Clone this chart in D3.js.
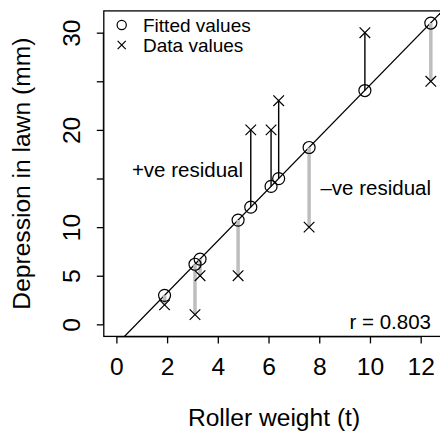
<!DOCTYPE html>
<html>
<head>
<meta charset="utf-8">
<script src="https://cdn.jsdelivr.net/npm/d3@7"></script>
<style>
  body { margin: 0; background: #fff; }
  text { font-family: "Liberation Sans", Arial, Helvetica, sans-serif; }
</style>
</head>
<body>
<div id="chart"></div>
<script>
// roller data: weight (t) vs depression (mm)
var weight = [1.9, 3.1, 3.3, 4.8, 5.3, 6.1, 6.4, 7.6, 9.8, 12.4];
var depression = [2, 1, 5, 5, 20, 20, 23, 10, 30, 25];
// fitted values
var fitted = [2.98, 6.18, 6.71, 10.72, 12.05, 14.19, 14.99, 18.19, 24.05, 30.99];
var lineIntercept = -2.09;
var lineSlope = 2.67;
var xTicks = [0, 2, 4, 6, 8, 10, 12];
var yTicks = [0, 5, 10, 15, 20, 25, 30];
var yTickLabels = ["0", "5", "10", "", "20", "", "30"];

var width = 440, height = 431;
var big = 24.6, small = 20.5;

var svg = d3.select("#chart").append("svg")
  .attr("width", width)
  .attr("height", height);

var x = d3.scaleLinear().domain([-0.496, 12.896]).range([103.8, 443.4]);
var y = d3.scaleLinear().domain([-1.24, 32.24]).range([336.4, 10.9]);

svg.append("clipPath").attr("id", "plotclip")
  .append("rect")
  .attr("x", x.range()[0]).attr("y", y.range()[1])
  .attr("width", x.range()[1] - x.range()[0])
  .attr("height", y.range()[0] - y.range()[1]);

var plot = svg.append("g").attr("clip-path", "url(#plotclip)");

// regression line
plot.append("line")
  .attr("x1", x(-1)).attr("y1", y(lineIntercept + lineSlope * -1))
  .attr("x2", x(14)).attr("y2", y(lineIntercept + lineSlope * 14))
  .attr("stroke", "#000").attr("stroke-width", 1.3);

// residuals: black above the line, grey below
plot.selectAll("line.resid")
  .data(weight)
  .enter().append("line")
  .attr("class", "resid")
  .attr("x1", function(d) { return x(d); })
  .attr("x2", function(d) { return x(d); })
  .attr("y1", function(d, i) { return y(fitted[i]); })
  .attr("y2", function(d, i) { return y(depression[i]); })
  .attr("stroke", function(d, i) { return depression[i] > fitted[i] ? "#000" : "#bebebe"; })
  .attr("stroke-width", function(d, i) { return depression[i] > fitted[i] ? 1.4 : 3.5; });

// fitted circles
plot.selectAll("circle.fit")
  .data(weight)
  .enter().append("circle")
  .attr("class", "fit")
  .attr("cx", function(d) { return x(d); })
  .attr("cy", function(d, i) { return y(fitted[i]); })
  .attr("r", 6)
  .attr("fill", "none")
  .attr("stroke", "#000").attr("stroke-width", 1.2);

// data crosses
var cross = d3.symbol().type(d3.symbolX).size(75);
plot.selectAll("path.dat")
  .data(weight)
  .enter().append("path")
  .attr("class", "dat")
  .attr("transform", function(d, i) { return "translate(" + x(d) + "," + y(depression[i]) + ")"; })
  .attr("d", cross)
  .attr("fill", "none")
  .attr("stroke", "#000").attr("stroke-width", 1.2);

// box
svg.append("rect")
  .attr("x", x.range()[0]).attr("y", y.range()[1])
  .attr("width", x.range()[1] - x.range()[0])
  .attr("height", y.range()[0] - y.range()[1])
  .attr("fill", "none").attr("stroke", "#000").attr("stroke-width", 1.3);

// axes
var xAxis = svg.append("g")
  .attr("transform", "translate(0," + y.range()[0] + ")")
  .call(d3.axisBottom(x).tickValues(xTicks).tickSize(7).tickPadding(14).tickSizeOuter(0));
xAxis.select(".domain").attr("d", "M" + x(0) + ",0.5H" + x(12));
xAxis.selectAll("text").attr("font-size", big).attr("font-family", null).attr("fill", "#000");
xAxis.selectAll("line").attr("stroke-width", 1.3);

var yAxis = svg.append("g")
  .attr("transform", "translate(" + x.range()[0] + ",0)")
  .call(d3.axisLeft(y).tickValues(yTicks).tickSize(7).tickSizeOuter(0)
    .tickFormat(function(d, i) { return yTickLabels[i]; }));
yAxis.select(".domain").attr("d", "M-0.5," + y(0) + "V" + y(30));
yAxis.selectAll("line").attr("stroke-width", 1.3);
yAxis.selectAll("text")
  .attr("font-size", big).attr("font-family", null).attr("fill", "#000")
  .attr("x", null).attr("dy", null)
  .attr("text-anchor", "middle")
  .attr("transform", "translate(-23.5,0) rotate(-90)");

// axis titles
svg.append("text")
  .attr("x", 274).attr("y", 426)
  .attr("text-anchor", "middle")
  .attr("font-size", big)
  .text("Roller weight (t)");

svg.append("text")
  .attr("transform", "translate(30," + ((y.range()[0] + y.range()[1]) / 2) + ") rotate(-90)")
  .attr("text-anchor", "middle")
  .attr("font-size", big)
  .text("Depression in lawn (mm)");

// legend
var legend = svg.append("g");
legend.append("circle")
  .attr("cx", 121.7).attr("cy", 25).attr("r", 4.6)
  .attr("fill", "none").attr("stroke", "#000").attr("stroke-width", 1.2);
legend.append("path")
  .attr("transform", "translate(121.7,45)")
  .attr("d", d3.symbol().type(d3.symbolX).size(45))
  .attr("fill", "none").attr("stroke", "#000").attr("stroke-width", 1.2);
legend.append("text").attr("x", 143).attr("y", 31.5).attr("font-size", 19).text("Fitted values");
legend.append("text").attr("x", 143).attr("y", 51.5).attr("font-size", 19).text("Data values");

// annotations
svg.append("text").attr("x", 243).attr("y", 176.5).attr("text-anchor", "end")
  .attr("font-size", small).text("+ve residual");
svg.append("text").attr("x", 431).attr("y", 195).attr("text-anchor", "end")
  .attr("font-size", small).text("\u2013ve residual");
svg.append("text").attr("x", 431).attr("y", 328.5).attr("text-anchor", "end")
  .attr("font-size", small).text("r = 0.803");
</script>
</body>
</html>
